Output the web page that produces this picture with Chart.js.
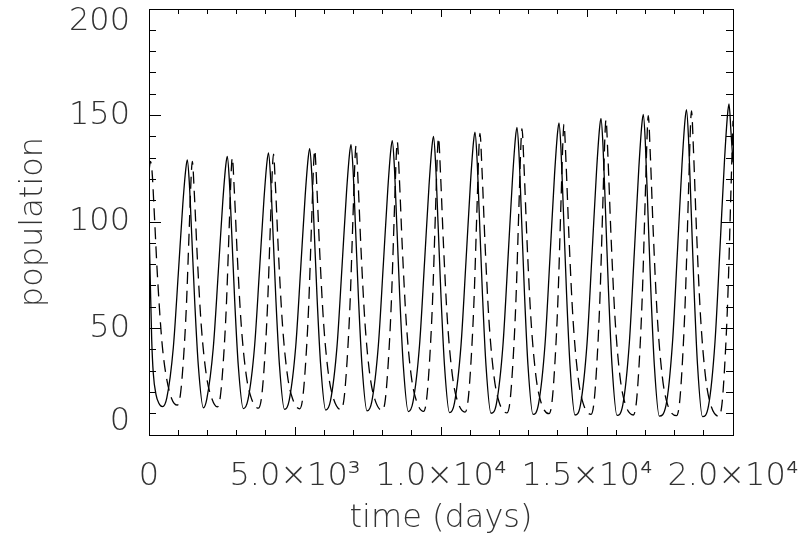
<!DOCTYPE html>
<html>
<head>
<meta charset="utf-8">
<title>population</title>
<script src="https://cdn.jsdelivr.net/npm/chart.js"></script>
<style>
  html, body { margin: 0; padding: 0; background: #ffffff; }
  #wrap { width: 809px; height: 540px; }
</style>
</head>
<body>
<div id="wrap"><canvas id="popChart" width="809" height="540"></canvas></div>
<script>
// solid curve
const solidDays = [
  0, 45, 92, 147, 240, 342, 462,
  610, 833, 1004, 1158, 1261, 1312, 1380, 1466, 1569, 1689, 1860,
  1979, 2202, 2373, 2527, 2630, 2681, 2749, 2835, 2938, 3058, 3229,
  3390, 3613, 3784, 3938, 4041, 4092, 4160, 4246, 4349, 4469, 4640,
  4801, 5024, 5195, 5349, 5452, 5503, 5571, 5657, 5760, 5880, 6051,
  6216, 6439, 6610, 6764, 6867, 6918, 6986, 7072, 7175, 7295, 7466,
  7630, 7853, 8024, 8178, 8281, 8332, 8400, 8486, 8589, 8709, 8880,
  9041, 9264, 9435, 9589, 9692, 9743, 9811, 9897, 10000, 10120, 10291,
  10462, 10685, 10856, 11010, 11113, 11164, 11232, 11318, 11421, 11541, 11712,
  11900, 12123, 12294, 12448, 12551, 12602, 12670, 12756, 12859, 12979, 13150,
  13339, 13562, 13733, 13887, 13990, 14041, 14109, 14195, 14298, 14418, 14589,
  14777, 15000, 15171, 15325, 15428, 15479, 15547, 15633, 15736, 15856, 16027,
  16226, 16449, 16620, 16774, 16877, 16928, 16996, 17082, 17185, 17305, 17476,
  17705, 17928, 18099, 18253, 18356, 18407, 18475, 18561, 18664, 18784, 18955,
  19161, 19384, 19555, 19709, 19812, 19863, 19931, 20000
];
const solidPop = [
  100, 72, 45, 29, 19, 14.8, 13.3,
  17.4, 41.1, 75.8, 108.3, 125.0, 129.1, 118.6, 93.0, 61.6, 32.6, 12.8,
  16.9, 41.1, 76.5, 109.6, 126.7, 130.8, 120.1, 94.1, 62.1, 32.5, 12.4,
  16.6, 41.2, 77.3, 110.9, 128.3, 132.5, 121.7, 95.1, 62.6, 32.5, 12.0,
  16.3, 41.4, 78.1, 112.4, 130.1, 134.4, 123.4, 96.4, 63.2, 32.6, 11.7,
  16.1, 41.6, 79.0, 113.9, 131.9, 136.3, 125.1, 97.6, 63.8, 32.6, 11.3,
  15.7, 41.8, 79.8, 115.4, 133.8, 138.2, 126.8, 98.8, 64.4, 32.6, 11.0,
  15.5, 42.0, 80.8, 116.9, 135.7, 140.2, 128.5, 100.0, 65.0, 32.5, 10.5,
  15.1, 42.1, 81.6, 118.5, 137.6, 142.2, 130.3, 101.3, 65.6, 32.6, 10.2,
  14.9, 42.4, 82.7, 120.2, 139.7, 144.4, 132.3, 102.6, 66.3, 32.6, 9.7,
  14.5, 42.5, 83.6, 121.9, 141.7, 146.5, 134.2, 104.0, 67.0, 32.7, 9.4,
  14.3, 42.8, 84.6, 123.5, 143.7, 148.6, 136.1, 105.4, 67.7, 32.9, 9.2,
  14.1, 43.1, 85.5, 125.1, 145.6, 150.5, 137.8, 106.6, 68.4, 33.0, 8.9,
  13.9, 43.4, 86.6, 126.9, 147.8, 152.8, 139.8, 108.1, 69.2, 33.1, 8.6,
  13.7, 43.8, 87.9, 129.0, 150.3, 155.4, 142.2, 128
];

// dashed curve
const dashedDays = [
  0, 51, 103, 171, 284, 435, 572, 777, 970,
  1072, 1175, 1278, 1380, 1449, 1483, 1552, 1654, 1791, 1963, 2134, 2339,
  2441, 2544, 2647, 2749, 2818, 2852, 2921, 3023, 3160, 3332, 3503, 3750,
  3852, 3955, 4058, 4160, 4229, 4263, 4332, 4434, 4571, 4743, 4914, 5161,
  5263, 5366, 5469, 5571, 5640, 5674, 5743, 5845, 5982, 6154, 6325, 6576,
  6678, 6781, 6884, 6986, 7055, 7089, 7158, 7260, 7397, 7569, 7740, 7990,
  8092, 8195, 8298, 8400, 8469, 8503, 8572, 8674, 8811, 8983, 9154, 9401,
  9503, 9606, 9709, 9811, 9880, 9914, 9983, 10085, 10222, 10394, 10565, 10822,
  10924, 11027, 11130, 11232, 11301, 11335, 11404, 11506, 11643, 11815, 11986, 12260,
  12362, 12465, 12568, 12670, 12739, 12773, 12842, 12944, 13081, 13253, 13424, 13699,
  13801, 13904, 14007, 14109, 14178, 14212, 14281, 14383, 14520, 14692, 14863, 15137,
  15239, 15342, 15445, 15547, 15616, 15650, 15719, 15821, 15958, 16130, 16301, 16586,
  16688, 16791, 16894, 16996, 17065, 17099, 17168, 17270, 17407, 17579, 17750, 18065,
  18167, 18270, 18373, 18475, 18544, 18578, 18647, 18749, 18886, 19058, 19229, 19521,
  19623, 19726, 19829, 19931, 20000
];
const dashedPop = [
  124, 128.5, 124, 107, 76, 45, 29, 17, 14.0,
  18.6, 34.6, 59.8, 97.6, 122.8, 128.5, 113.5, 83.5, 51.2, 28.2, 17.8, 13.2,
  17.9, 34.3, 60.0, 98.6, 124.4, 130.2, 114.9, 84.3, 51.4, 27.9, 17.3, 12.6,
  17.4, 34.1, 60.3, 99.7, 125.9, 131.9, 116.4, 85.3, 51.8, 27.8, 17.1, 12.3,
  17.2, 34.2, 60.9, 101.0, 127.7, 133.8, 118.0, 86.3, 52.1, 27.7, 16.8, 11.9,
  16.9, 34.2, 61.4, 102.3, 129.5, 135.7, 119.6, 87.3, 52.5, 27.6, 16.5, 11.5,
  16.5, 34.2, 61.9, 103.6, 131.3, 137.6, 121.2, 88.3, 52.8, 27.5, 16.2, 11.1,
  16.2, 34.2, 62.5, 104.9, 133.2, 139.6, 122.8, 89.3, 53.2, 27.5, 15.9, 10.7,
  15.9, 34.3, 63.1, 106.3, 135.1, 141.6, 124.5, 90.4, 53.7, 27.5, 15.6, 10.4,
  15.7, 34.4, 63.8, 107.8, 137.1, 143.8, 126.4, 91.6, 54.2, 27.4, 15.4, 10.0,
  15.4, 34.5, 64.4, 109.2, 139.1, 145.9, 128.2, 92.8, 54.6, 27.4, 15.1, 9.7,
  15.2, 34.6, 65.0, 110.7, 141.1, 148.0, 130.0, 93.9, 55.1, 27.4, 14.9, 9.4,
  15.0, 34.7, 65.6, 112.0, 142.9, 149.9, 131.6, 95.0, 55.6, 27.4, 14.7, 9.1,
  14.8, 34.9, 66.3, 113.6, 145.0, 152.2, 133.6, 96.3, 56.1, 27.4, 14.5, 8.8,
  14.6, 35.1, 67.2, 115.4, 147.5
];

// axis ranges and tick steps
const xRange = [0, 20000];
const xMajorStep = 5000;
const xMinorStep = 1000;
const yRange = [0, 200];
const yMajorStep = 50;
const yMinorStep = 10;

const fontFamily = "'DejaVu Sans', 'Liberation Sans', sans-serif";
const textColor = '#333333';
const supDigits = { '0': '\u2070', '1': '\u00b9', '2': '\u00b2', '3': '\u00b3', '4': '\u2074',
  '5': '\u2075', '6': '\u2076', '7': '\u2077', '8': '\u2078', '9': '\u2079' };

function sciLabel(v)
{
  if (v === 0) return '0';
  const e = Math.floor(Math.log10(v));
  const m = v / Math.pow(10, e);
  const sup = String(e).split('').map(c => supDigits[c]).join('');
  return m.toFixed(1) + '\u00d710' + sup;
}

function toPoints(xs, ys)
{
  return xs.map((x, i) => ({ x: x, y: ys[i] }));
}

// fixes the box size of a scale so the plot frame sits where the picture has it
function fixSize(size)
{
  return function (scale)
  {
    scale.paddingTop = 0;
    scale.paddingBottom = 0;
    scale.paddingLeft = 0;
    scale.paddingRight = 0;
    if (scale.isHorizontal()) scale.height = size;
    else scale.width = size;
  };
}

// one axis line of ticks, pointing into the plot
function tickScale(axis, position, range, step, len, size, withBorder)
{
  return {
    type: 'linear',
    axis: axis,
    position: position,
    min: range[0],
    max: range[1],
    weight: 0,
    grid:
    {
      drawOnChartArea: false,
      drawTicks: true,
      tickLength: -len,
      tickColor: '#000000',
      tickWidth: 1
    },
    border:
    {
      display: withBorder,
      color: '#000000',
      width: 1
    },
    ticks:
    {
      display: false,
      stepSize: step
    },
    afterFit: fixSize(size)
  };
}

const ctx = document.getElementById('popChart').getContext('2d');

const xMain = tickScale('x', 'bottom', xRange, xMajorStep, 8, 105, true);
xMain.weight = 1;
xMain.ticks =
{
  display: true,
  stepSize: xMajorStep,
  autoSkip: false,
  maxRotation: 0,
  minRotation: 0,
  padding: 30,
  color: textColor,
  font: { family: fontFamily, size: 32, weight: 200 },
  callback: (v) => sciLabel(v)
};
xMain.title =
{
  display: true,
  text: 'time (days)',
  color: textColor,
  font: { family: fontFamily, size: 32, weight: 200 },
  padding: { top: 0, bottom: 2 }
};

const yMain = tickScale('y', 'left', yRange, yMajorStep, 12, 149, true);
yMain.weight = 1;
yMain.ticks =
{
  display: true,
  stepSize: yMajorStep,
  padding: 31,
  color: textColor,
  font: { family: fontFamily, size: 32, weight: 200, lineHeight: '26px' },
  callback: function (v)
  {
    // end labels sit a little inside the frame, as in the picture
    if (v === yRange[1]) return ['', String(v)];
    if (v === yRange[0]) return [String(v), ''];
    return String(v);
  }
};
yMain.title =
{
  display: true,
  text: 'population',
  color: textColor,
  font: { family: fontFamily, size: 32, weight: 200 },
  padding: { top: 14, bottom: 0 }
};

const popChart = new Chart(ctx,
  {
    type: 'line',
    data:
    {
      datasets:
        [
          {
            label: 'solid',
            data: toPoints(solidDays, solidPop),
            borderColor: '#000000',
            borderWidth: 1.3,
            pointRadius: 0,
            cubicInterpolationMode: 'monotone',
            fill: false
          },
          {
            label: 'dashed',
            data: toPoints(dashedDays, dashedPop),
            borderColor: '#000000',
            borderWidth: 1.3,
            borderDash: [12, 7],
            pointRadius: 0,
            cubicInterpolationMode: 'monotone',
            fill: false
          }
        ]
    },
    options:
    {
      responsive: false,
      animation: false,
      layout: { padding: { top: 9, right: 76, bottom: 0, left: 0 } },
      scales:
      {
        x: xMain,
        xMinor: tickScale('x', 'bottom', xRange, xMinorStep, 5, 0, false),
        xTop: tickScale('x', 'top', xRange, xMajorStep, 8, 0, true),
        xTopMinor: tickScale('x', 'top', xRange, xMinorStep, 5, 0, false),
        y: yMain,
        yMinor: tickScale('y', 'left', yRange, yMinorStep, 7, 0, false),
        yRight: tickScale('y', 'right', yRange, yMajorStep, 12, 0, true),
        yRightMinor: tickScale('y', 'right', yRange, yMinorStep, 7, 0, false)
      },
      plugins:
      {
        legend: { display: false },
        tooltip: { enabled: false }
      }
    }
  });
</script>
</body>
</html>
